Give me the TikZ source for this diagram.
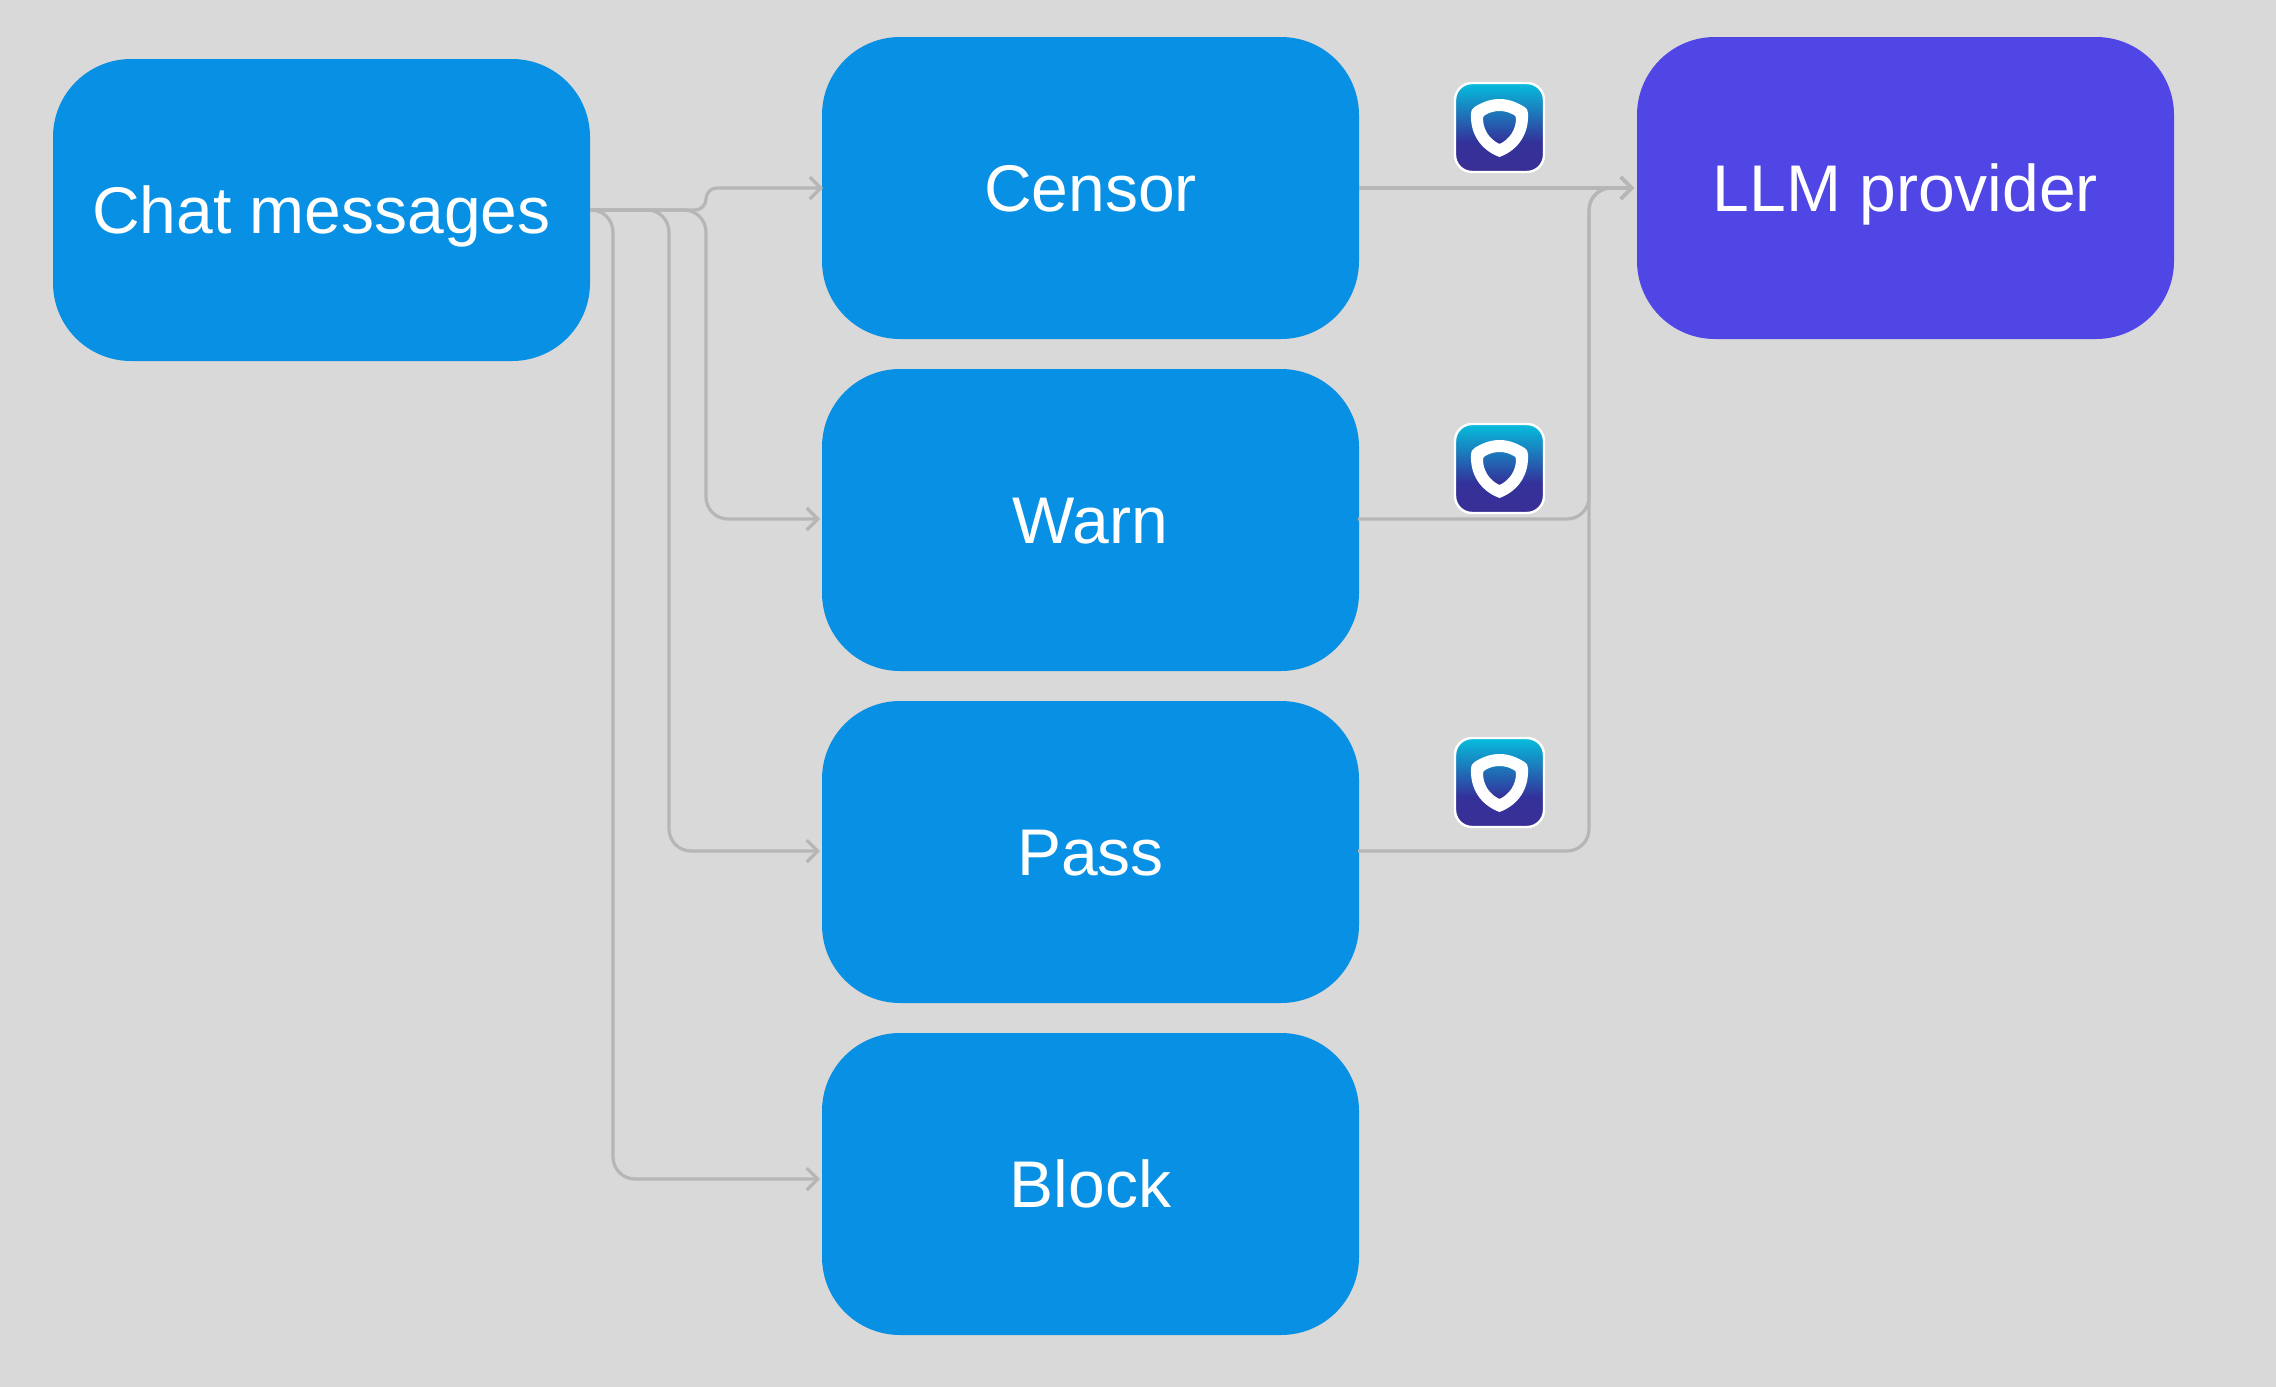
\documentclass[tikz,border=0pt]{standalone}
\usepackage{fontspec}
\setmainfont{Liberation Sans}
\usetikzlibrary{arrows.meta}
\definecolor{bgc}{HTML}{D9D9D9}
\definecolor{boxblue}{HTML}{0891E4}
\definecolor{boxviolet}{HTML}{4F46E5}
\definecolor{wirec}{HTML}{B6B6B6}
\definecolor{gradtop}{HTML}{06BEDC}
\definecolor{gradmid}{HTML}{33329A}
\definecolor{gradbot}{HTML}{3A2E96}
\pgfdeclareverticalshading{icongrad}{100bp}{color(0bp)=(gradbot); color(25bp)=(gradbot); color(42bp)=(gradmid); color(75bp)=(gradtop); color(100bp)=(gradtop)}
\tikzset{
  flowbox/.style={rectangle,rounded corners=78pt,minimum width=537pt,minimum height=302pt,
    inner sep=0pt,outer sep=0pt,fill=boxblue,text=white,text height=46pt,text depth=0pt,
    font=\fontsize{66}{66}\selectfont},
  wire/.style={draw=wirec,line width=3.2pt,rounded corners=22pt,
    -{Straight Barb[length=11pt,width=22pt,line width=3.2pt]}},
  iconbox/.style={rectangle,rounded corners=17pt,minimum size=89pt,inner sep=0pt,
    draw=white,line width=2.4pt,shading=icongrad},
  shield/.pic={
    \fill[white,even odd rule]
      (0,-28.5) .. controls (9,-28.5) and (17,-25.5) .. (25,-20.5)
      .. controls (27.5,-19) and (28.5,-17) .. (28.5,-14)
      .. controls (29.5,5) and (20,22) .. (0,29.5)
      .. controls (-20,22) and (-29.5,5) .. (-28.5,-14)
      .. controls (-28.5,-17) and (-27.5,-19) .. (-25,-20.5)
      .. controls (-17,-25.5) and (-9,-28.5) .. (0,-28.5) -- cycle
      (0,-16.5) .. controls (5.5,-16.5) and (10,-15) .. (14.5,-12.5)
      .. controls (16,-11.5) and (16.5,-10.5) .. (16.5,-9)
      .. controls (16.5,2) and (10,12) .. (0,16.5)
      .. controls (-10,12) and (-16.5,2) .. (-16.5,-9)
      .. controls (-16.5,-10.5) and (-16,-11.5) .. (-14.5,-12.5)
      .. controls (-10,-15) and (-5.5,-16.5) .. (0,-16.5) -- cycle;
  }
}
\begin{document}
\begin{tikzpicture}[x=1pt,y=-1pt]
\useasboundingbox (0,0) rectangle (2276,1387);
\fill[bgc] (0,0) rectangle (2276,1387);
\node[flowbox] (chat) at (321.5,210) {Chat messages};
\node[flowbox] (censor) at (1090.5,188) {Censor};
\node[flowbox] (warn) at (1090.5,520) {Warn};
\node[flowbox] (pass) at (1090.5,852) {Pass};
\node[flowbox] (block) at (1090.5,1184) {Block};
\node[flowbox,fill=boxviolet] (llm) at (1905.5,188) {LLM provider};
\node[iconbox] (icona) at (1499.5,127.5) {};
\node[iconbox] (iconb) at (1499.5,468.5) {};
\node[iconbox] (iconc) at (1499.5,782.5) {};
\pic at (icona.center) {shield};
\pic at (iconb.center) {shield};
\pic at (iconc.center) {shield};
% bus coordinates
\coordinate (busa) at (706,210);
\coordinate (busb) at (669,210);
\coordinate (busc) at (613,210);
\coordinate (blockin) at (820,1179);
\coordinate (merge) at (1589,188);
\coordinate (llmin) at (1634,188);
\coordinate (warnin) at (820,519);
\coordinate (passin) at (820,851);
\coordinate (censorin) at (823,188);
\coordinate (warnout) at (1358,519);
\coordinate (passout) at (1358,851);
% left connectors
\draw[wire,rounded corners=11pt] (chat.east) -- (busa) -- (busa |- censorin) -- (censorin);
\draw[wire] (chat.east) -- (busa) -- (busa |- warnin) -- (warnin);
\draw[wire] (chat.east) -- (busb) -- (busb |- passin) -- (passin);
\draw[wire] (chat.east) -- (busc) -- (busc |- blockin) -- (blockin);
% right connectors
\draw[wire] (censor.east) -- (llmin);
\draw[wire] (warnout) -- (merge |- warnout) -- (merge) -- (llmin);
\draw[wire] (passout) -- (merge |- passout) -- (merge) -- (llmin);
\end{tikzpicture}
\end{document}
